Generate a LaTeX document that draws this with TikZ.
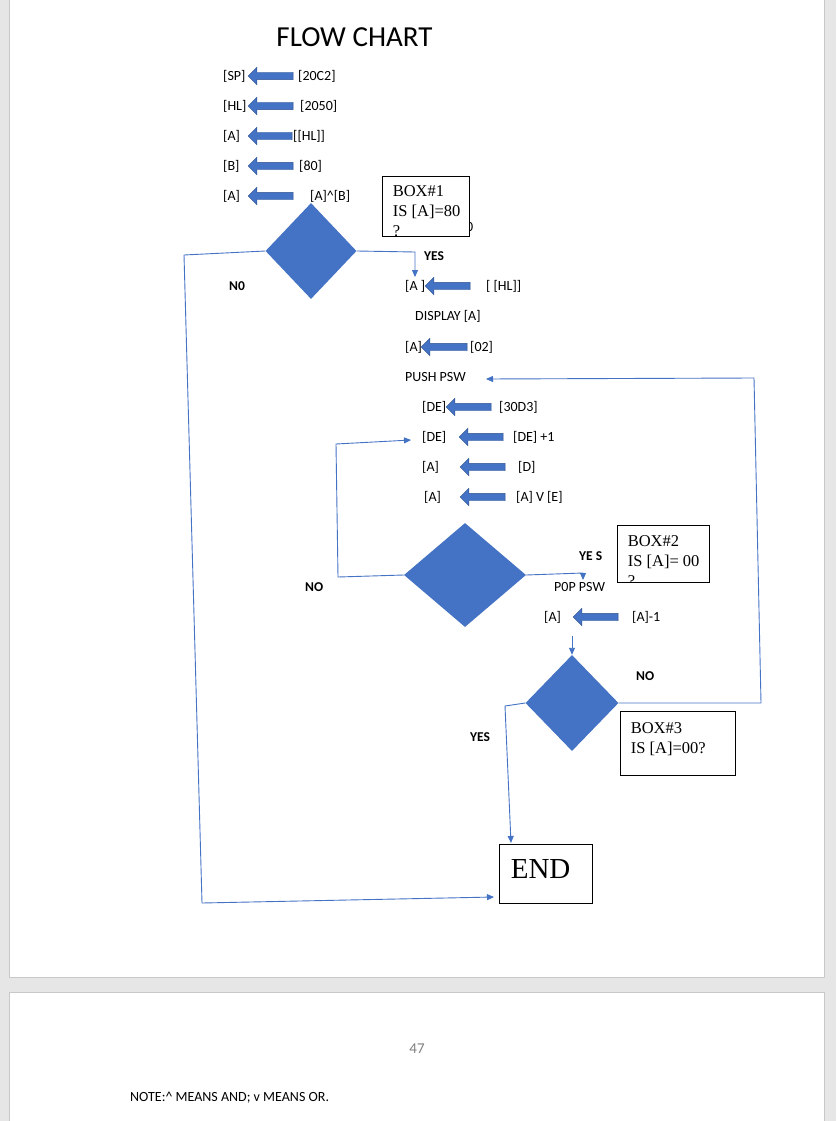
\documentclass[tikz,border=0pt]{standalone}
\usepackage{fontspec}
\setmainfont{Carlito}
\newfontfamily\boxfont{Liberation Serif}
\usetikzlibrary{shapes.geometric,shapes.arrows,arrows.meta}
\definecolor{flowblue}{RGB}{68,114,196}
\definecolor{flowedge}{RGB}{47,82,143}
\definecolor{deskgray}{RGB}{230,230,230}
\definecolor{pageedge}{RGB}{200,200,200}

\begin{document}
\begin{tikzpicture}[x=1pt,y=-1pt,
    lbl/.style={anchor=west,inner sep=0pt,font=\fontsize{14}{16}\selectfont},
    yn/.style={anchor=west,inner sep=0pt,font=\fontsize{13.5}{16}\selectfont\bfseries},
    leftarrow/.style={single arrow,shape border rotate=180,fill=flowblue,draw=flowedge,line width=0.4pt,
        inner xsep=0pt,inner ysep=3.5pt,single arrow head extend=5pt,minimum height=#1},
    decision/.style={diamond,fill=flowblue,inner sep=0pt},
    infobox/.style={draw,line width=0.8pt,fill=white,inner sep=0pt,anchor=north west},
    boxtext/.style={anchor=north west,align=left,inner sep=0pt,draw=none,fill=none,minimum size=0pt,
        font=\boxfont\fontsize{16.5}{20}\selectfont},
    link/.style={flowblue,line width=0.9pt},
    linkarrow/.style={link,-{Triangle[length=7pt,width=6pt]}}]

    % desk and the two pages
    \fill[deskgray] (0,0) rectangle (836,1121);
    \useasboundingbox (0,0) rectangle (836,1121);
    \draw[pageedge,fill=white] (9,-5) rectangle (824,977);
    \draw[pageedge,fill=white] (9,992) rectangle (824,1130);

    \node[font=\fontsize{29}{32}\selectfont] (title) at (354.5,37) {FLOW CHART};

    % set up
    \node[lbl] (sp) at (223,76) {[SP]};
    \node[leftarrow=45pt] (asp) at (272.5,76) {};
    \node[lbl] (spval) at (298,76) {[20C2]};

    \node[lbl] (hl) at (223,106) {[HL]};
    \node[leftarrow=45pt] (ahl) at (272.5,106) {};
    \node[lbl] (hlval) at (300,106) {[2050]};

    \node[lbl] (ra) at (223,136) {[A]};
    \node[leftarrow=44pt] (ara) at (272,136) {};
    \node[lbl] (raval) at (293,136) {[[HL]]};

    \node[lbl] (rb) at (223,166) {[B]};
    \node[leftarrow=45pt] (arb) at (272.5,166) {};
    \node[lbl] (rbval) at (299,166) {[80]};

    \node[lbl] (rand) at (223,196) {[A]};
    \node[leftarrow=45pt] (arand) at (272.5,196) {};
    \node[lbl] (randval) at (310,196) {[A]\textasciicircum[B]};

    % box 1
    \node[decision,minimum width=91pt,minimum height=96pt] (d1) at (311,251) {};
    \node[lbl] (hidden) at (466,227) {0};
    \node[infobox,minimum width=87pt,minimum height=60pt,
        path picture={\node[boxtext] at ([xshift=10pt,yshift=-9pt]path picture bounding box.north west) {BOX\#1\\IS [A]=80\\?};}]
        (box1) at (382,176) {};

    \node[yn] (yes1) at (424,256) {YES};
    \node[yn] (no1) at (229,286) {N0};

    % display
    \node[lbl] (ld) at (405,286) {[A ]};
    \node[leftarrow=45pt] (ald) at (449.5,286) {};
    \node[lbl] (ldval) at (486,286) {[ [HL]]};
    \node[lbl] (disp) at (415,316) {DISPLAY [A]};
    \node[lbl] (cnt) at (405,347) {[A]};
    \node[leftarrow=46pt] (acnt) at (446,347) {};
    \node[lbl] (cntval) at (470,347) {[02]};
    \node[lbl] (push) at (405,377) {PUSH PSW};

    % delay
    \node[lbl] (de1) at (422,407) {[DE]};
    \node[leftarrow=45pt] (ade1) at (470.5,407) {};
    \node[lbl] (de1val) at (499,407) {[30D3]};
    \node[lbl] (de2) at (422,437) {[DE]};
    \node[leftarrow=44pt] (ade2) at (483,437) {};
    \node[lbl] (de2val) at (513,437) {[DE] +1};
    \node[lbl] (ld1) at (422,467) {[A]};
    \node[leftarrow=45pt] (ald1) at (484.5,467) {};
    \node[lbl] (ld1val) at (518,467) {[D]};
    \node[lbl] (or1) at (424,497) {[A]};
    \node[leftarrow=45pt] (aor1) at (484.5,497) {};
    \node[lbl] (or1val) at (516,497) {[A] V [E]};

    % box 2
    \node[decision,minimum width=122pt,minimum height=104pt] (d2) at (465,575) {};
    \node[infobox,minimum width=92pt,minimum height=57pt,
        path picture={\node[boxtext] at ([xshift=10pt,yshift=-10pt]path picture bounding box.north west) {BOX\#2\\IS [A]= 00\\?};}]
        (box2) at (617,525) {};
    \node[yn] (yes2) at (579,556) {YE S};
    \node[yn] (no2) at (305,587) {NO};

    \node[lbl] (pop) at (554,587) {P0P PSW};
    \node[lbl] (dec) at (544,617) {[A]};
    \node[leftarrow=45pt] (adec) at (597.5,617) {};
    \node[lbl] (decval) at (632,617) {[A]-1};

    % box 3
    \node[decision,minimum width=93pt,minimum height=96pt] (d3) at (572,703) {};
    \node[infobox,minimum width=115pt,minimum height=64pt,
        path picture={\node[boxtext] at ([xshift=10pt,yshift=-11pt]path picture bounding box.north west) {BOX\#3\\IS [A]=00?};}]
        (box3) at (620,711) {};
    \node[yn] (no3) at (636,676) {NO};
    \node[yn] (yes3) at (470,737) {YES};

    \node[infobox,minimum width=93pt,minimum height=59pt,
        path picture={\node[boxtext,font=\boxfont\fontsize{29}{32}\selectfont]
            at ([xshift=11pt,yshift=-15pt]path picture bounding box.north west) {END};}]
        (endbox) at (499,844) {};

    % connectors
    \coordinate (dispin) at (415,277);
    \coordinate (pushin) at (486,379);
    \coordinate (dein) at (411,440);
    \coordinate (popin) at (583,580);
    \coordinate (decout) at (572,636);
    \coordinate (endleft) at (494,897);
    \coordinate (endtop) at (511,843);

    \draw[linkarrow] (d1.east) -- (415,252) -- (dispin);
    \draw[linkarrow] (d1.west) -- (184,255) -- (202,903) -- (endleft);
    \draw[linkarrow] (d2.west) -- (338,577) -- (336,444) -- (dein);
    \draw[linkarrow] (d2.east) -- (583,573) -- (popin);
    \draw[linkarrow] (decout) -- (d3.north);
    \draw[linkarrow] (d3.east) -- (761,703) -- (754,378) -- (pushin);
    \draw[linkarrow] (d3.west) -- (505,706) -- (endtop);

    % second page
    \node[font=\fontsize{15}{17}\selectfont,text=gray] (pagenum) at (417,1049) {47};
    \node[lbl] (note) at (130,1098) {NOTE:\textasciicircum{} MEANS AND; v MEANS OR.};
\end{tikzpicture}
\end{document}
